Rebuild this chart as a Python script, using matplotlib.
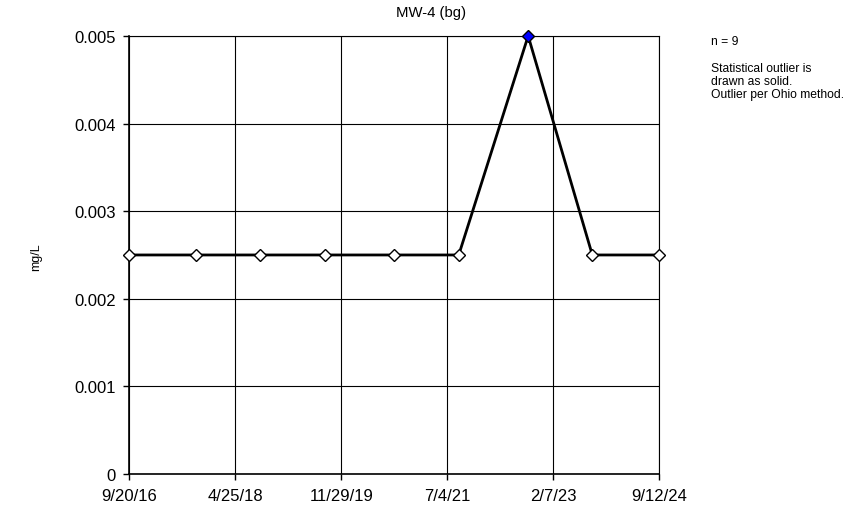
import matplotlib
matplotlib.use("Agg")
import matplotlib.pyplot as plt
import matplotlib.dates as mdates
import numpy as np
from datetime import datetime

plt.rcParams['font.family'] = ['Liberation Sans', 'DejaVu Sans']

# sample dates and concentrations
dates = ["2016-09-20", "2017-09-19", "2018-09-11", "2019-09-03", "2020-09-13",
         "2021-09-06", "2022-09-23", "2023-09-11", "2024-09-12"]
values = [0.0025, 0.0025, 0.0025, 0.0025, 0.0025, 0.0025, 0.005, 0.0025, 0.0025]
outlier = [False, False, False, False, False, False, True, False, False]

x_start = "2016-09-20"
x_end = "2024-09-12"
x_tick_labels = ["9/20/16", "4/25/18", "11/29/19", "7/4/21", "2/7/23", "9/12/24"]
y_ticks = [0, 0.001, 0.002, 0.003, 0.004, 0.005]
y_tick_labels = ["0", "0.001", "0.002", "0.003", "0.004", "0.005"]

x = mdates.date2num([datetime.strptime(d, "%Y-%m-%d") for d in dates])
y = np.array(values)
out = np.array(outlier)
x0 = mdates.date2num(datetime.strptime(x_start, "%Y-%m-%d"))
x1 = mdates.date2num(datetime.strptime(x_end, "%Y-%m-%d"))

fig = plt.figure(figsize=(8.62, 5.10), dpi=100)
ax = fig.add_axes([0.1502, 0.0686, 0.6143, 0.859])

ax.plot(x, y, color='black', lw=2, zorder=3, clip_on=False)
ax.plot(x[~out], y[~out], ls='none', marker='D', ms=5.8, mfc='white', mec='black', mew=1,
        zorder=4, clip_on=False)
ax.plot(x[out], y[out], ls='none', marker='D', ms=5.8, mfc='#0000ff', mec='black', mew=1,
        zorder=4, clip_on=False)

ax.set_xlim(x0, x1)
ax.set_ylim(0, 0.005)
xt = np.linspace(x0, x1, len(x_tick_labels))
ax.set_xticks(xt)
ax.set_xticklabels(x_tick_labels)
ax.set_yticks(y_ticks)
ax.set_yticklabels(y_tick_labels)
ax.grid(True, color='black', lw=0.8)
ax.tick_params(axis='both', labelsize=12, length=4, width=1, color='black',
               direction='out', pad=6)
for s in ax.spines.values():
    s.set_color('black')
    s.set_linewidth(0.8)
ax.spines['left'].set_linewidth(1.2)
ax.spines['bottom'].set_linewidth(1.2)

# title is centred on the whole chart, not the plot area
fig.text(0.5, 0.974, "MW-4 (bg)", ha='center', va='center', fontsize=10.7)
fig.text(0.042, 0.496, "mg/L", rotation=90, va='center', ha='center', fontsize=9)
fig.text(0.825, 0.918, "n = 9", fontsize=8.7, va='center')
fig.text(0.825, 0.839, "Statistical outlier is\ndrawn as solid.\nOutlier per Ohio method.",
         fontsize=8.7, va='center', linespacing=1.12)

fig.savefig("out.png", dpi=100)
